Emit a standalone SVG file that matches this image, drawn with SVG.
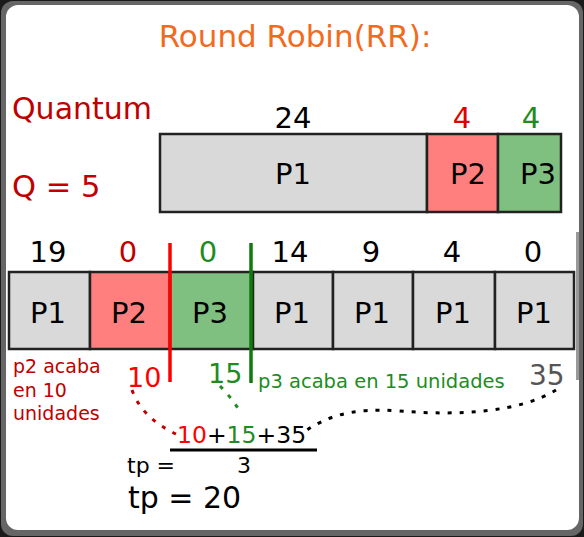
<svg xmlns="http://www.w3.org/2000/svg" width="584" height="537" viewBox="0 0 584 537">
<defs>
<style>
text{font-family:"DejaVu Sans","Verdana",sans-serif;}
.box{stroke:#222;stroke-width:2.5;}
.gray{fill:#D9D9D9;}
.red{fill:#FF7F7F;}
.green{fill:#7FBF7F;}
.lbl{font-size:29px;fill:#000;text-anchor:middle;}
.dot{fill:none;stroke-width:3;stroke-dasharray:4 8;}
</style>
</defs>
<rect x="0" y="0" width="584" height="537" fill="#1a1a1a"/>
<rect x="1" y="1" width="582" height="535" rx="12" fill="#666"/>
<rect x="6" y="5" width="573" height="525" rx="12" fill="#fff"/>
<rect x="576" y="232" width="3" height="148" fill="#999"/>

<text x="295" y="47" font-size="31" fill="#F26B1D" text-anchor="middle">Round Robin(RR):</text>
<text x="12" y="119" font-size="30" fill="#C00000">Quantum</text>
<text x="12" y="197" font-size="30.5" fill="#C00000">Q = 5</text>

<g id="top-p1"><rect class="box gray" x="160" y="134" width="267" height="78"/><text class="lbl" x="293" y="184">P1</text><text class="lbl" x="293" y="128">24</text></g>
<g id="top-p2"><rect class="box red" x="427" y="134" width="71" height="78"/><text class="lbl" x="468" y="184">P2</text><text class="lbl" x="462" y="128" style="fill:#E00000">4</text></g>
<g id="top-p3"><rect class="box green" x="498" y="134" width="63" height="78"/><text class="lbl" x="538" y="184">P3</text><text class="lbl" x="531" y="128" style="fill:#1E8C1E">4</text></g>

<g id="b1"><rect class="box gray" x="9" y="272" width="81" height="77"/><text class="lbl" x="48" y="323">P1</text><text class="lbl" x="48" y="262">19</text></g>
<g id="b2"><rect class="box red" x="90" y="272" width="80" height="77"/><text class="lbl" x="129" y="323">P2</text><text class="lbl" x="128" y="262" style="fill:#C00000">0</text></g>
<g id="b3"><rect class="box green" x="170" y="272" width="83" height="77"/><text class="lbl" x="210" y="323">P3</text><text class="lbl" x="208" y="262" style="fill:#1E8C1E">0</text></g>
<g id="b4"><rect class="box gray" x="253" y="272" width="80" height="77"/><text class="lbl" x="292" y="323">P1</text><text class="lbl" x="290" y="262">14</text></g>
<g id="b5"><rect class="box gray" x="333" y="272" width="80" height="77"/><text class="lbl" x="372" y="323">P1</text><text class="lbl" x="371" y="262">9</text></g>
<g id="b6"><rect class="box gray" x="413" y="272" width="82" height="77"/><text class="lbl" x="453" y="323">P1</text><text class="lbl" x="452" y="262">4</text></g>
<g id="b7"><rect class="box gray" x="495" y="272" width="79" height="77"/><text class="lbl" x="534" y="323">P1</text><text class="lbl" x="533" y="262">0</text></g>

<g id="connectors">
<line x1="170" y1="243" x2="170" y2="382" stroke="#FF0000" stroke-width="3.5"/>
<line x1="251" y1="243" x2="251" y2="383" stroke="#0E7A0E" stroke-width="3.5"/>
<path class="dot" stroke="#C00000" d="M132 390 Q142 418 176 434"/>
<path class="dot" stroke="#1E8C1E" d="M220 386 Q232 398 241 413"/>
<path class="dot" stroke="#000" d="M556 390 C520 412 460 416 400 411 C350 407 325 418 307 430"/>
</g>

<text x="13" y="373" font-size="19" fill="#C00000">p2 acaba</text>
<text x="13" y="397" font-size="19" fill="#C00000">en 10</text>
<text x="13" y="420" font-size="19" fill="#C00000">unidades</text>
<text x="127" y="387" font-size="27" fill="#FF0000">10</text>
<text x="208" y="383" font-size="27" fill="#1E8C1E">15</text>
<text x="258" y="388" font-size="19.5" fill="#1E8C1E">p3 acaba en 15 unidades</text>
<text x="529" y="385" font-size="28" fill="#555">35</text>

<text x="177" y="443" font-size="23.5"><tspan fill="#FF0000">10</tspan><tspan fill="#000">+</tspan><tspan fill="#1E8C1E">15</tspan><tspan fill="#000">+35</tspan></text>
<line x1="170" y1="450" x2="317" y2="450" stroke="#000" stroke-width="3"/>
<text x="127" y="473" font-size="22" fill="#000">tp =</text>
<text x="237" y="473" font-size="22" fill="#000">3</text>
<text x="128" y="508" font-size="30" fill="#000">tp = 20</text>
</svg>
